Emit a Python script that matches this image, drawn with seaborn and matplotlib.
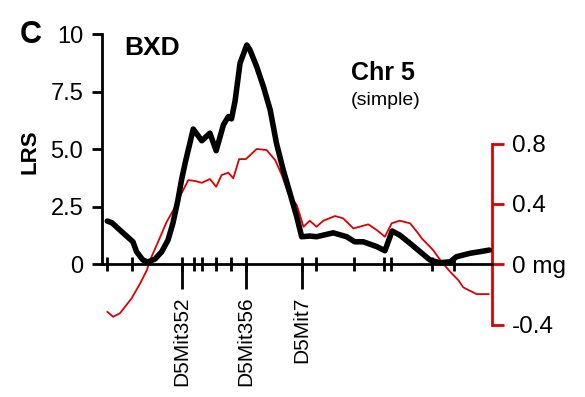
import seaborn as sns
import matplotlib.pyplot as plt
import pandas as pd

sns.set_theme(style='ticks')
plt.rcParams['font.family'] = ['Liberation Sans', 'DejaVu Sans']
plt.rcParams.update({'text.color': 'black', 'axes.edgecolor': 'black',
                     'xtick.color': 'black', 'ytick.color': 'black'})

# LRS scan along Chr 5 (position in cM)
lrs_pos = [0.0, 1.0, 2.8, 5.7, 6.5, 7.9, 9.0, 10.6, 12.1, 13.5, 14.6, 15.7, 16.5, 17.3,
           19.1, 21.0, 22.8, 24.2, 25.8, 26.9, 27.6, 28.4, 29.5, 31.0, 31.7, 33.2, 34.7,
           36.2, 37.6, 39.1, 40.6, 42.1, 43.2, 45.0, 46.5, 50.2, 53.2, 55.0, 56.9, 59.9,
           61.7, 63.3, 65.0, 67.3, 69.5, 71.7, 73.9, 76.2, 77.6, 80.6, 82.8, 84.9]
lrs = [1.88, 1.81, 1.49, 0.98, 0.55, 0.19, 0.10, 0.23, 0.55, 1.06, 1.80, 2.80, 3.67, 4.40,
       5.88, 5.37, 5.70, 4.94, 6.06, 6.42, 6.32, 7.10, 8.74, 9.53, 9.32, 8.59, 7.72,
       6.71, 5.26, 4.10, 3.09, 2.07, 1.20, 1.23, 1.20, 1.37, 1.20, 0.98, 0.98, 0.77,
       0.59, 1.45, 1.27, 0.91, 0.55, 0.19, 0.07, 0.11, 0.33, 0.48, 0.55, 0.62]

# additive effect (mg)
eff_pos = [0.0, 1.3, 2.8, 5.4, 7.3, 8.8, 9.5, 11.3, 13.2, 14.7, 16.5, 18.0, 19.5, 21.0,
           22.8, 24.2, 25.4, 26.9, 28.0, 29.3, 30.8, 33.2, 35.4, 37.3, 38.8, 40.2, 42.1,
           43.6, 45.0, 46.5, 48.0, 50.6, 52.4, 54.7, 58.0, 59.9, 61.7, 63.2, 65.0, 67.3,
           69.1, 69.9, 72.4, 74.3, 76.2, 78.0, 79.1, 80.6, 82.1, 84.8]
eff = [-0.314, -0.347, -0.324, -0.225, -0.126, -0.038, 0.028, 0.150, 0.282, 0.360, 0.470,
       0.558, 0.552, 0.540, 0.565, 0.514, 0.591, 0.607, 0.570, 0.697, 0.697, 0.764, 0.757,
       0.691, 0.591, 0.470, 0.393, 0.249, 0.289, 0.249, 0.289, 0.320, 0.305, 0.238, 0.265,
       0.227, 0.183, 0.272, 0.289, 0.272, 0.205, 0.172, 0.095, 0.017, -0.049, -0.104,
       -0.152, -0.175, -0.197, -0.197]

marker_pos = [0.0, 5.4, 16.5, 19.3, 21.0, 24.2, 27.6, 30.8, 43.2, 46.3, 54.8, 61.4, 63.0,
              72.2, 77.0]
named_pos = [16.5, 30.8, 43.2]
named_markers = ['D5Mit352', 'D5Mit356', 'D5Mit7']

lrs_ticks = [0, 2.5, 5, 7.5, 10]
lrs_ticklabels = ['0', '2.5', '5.0', '7.5', '10']
eff_ticks = [-0.4, 0, 0.4, 0.8]
eff_ticklabels = ['-0.4', '0 mg', '0.4', '0.8']

RED = '#dd0000'
W, H = 585, 397
LW = 2.0

df_lrs = pd.DataFrame({'pos': lrs_pos, 'LRS': lrs})
df_eff = pd.DataFrame({'pos': eff_pos, 'effect': eff})

fig = plt.figure(figsize=(W / 100, H / 100), dpi=100)
ax = fig.add_axes([101.5 / W, 1 - 335 / H, (492 - 101.5) / W, 307 / H])
ax2 = ax.twinx()

sns.lineplot(data=df_eff, x='pos', y='effect', ax=ax2, color=RED, linewidth=1.3)
sns.lineplot(data=df_lrs, x='pos', y='LRS', ax=ax, color='black', linewidth=4.0, zorder=5)
ax.set_zorder(ax2.get_zorder() + 1)
ax.patch.set_visible(False)

ax.set_xlim(-1.29, 85.5)
ax.set_ylim(-3.07, 10.27)
ax2.set_ylim(-0.4677, 1.565)

# left axis
for s in ['top', 'right']:
    ax.spines[s].set_visible(False)
ax.spines['left'].set_bounds(0, 10)
ax.spines['left'].set_linewidth(LW)
ax.spines['bottom'].set_position(('data', 0))
ax.spines['bottom'].set_linewidth(LW)
ax.set_yticks(lrs_ticks)
ax.set_yticklabels(lrs_ticklabels)
ax.tick_params(axis='y', direction='out', length=7.2, width=LW, pad=6, labelsize=17)
ax.set_xlabel('')
ax.set_ylabel('')

# marker ticks
ax.xaxis.remove_overlapping_locs = False
ax.set_xticks(named_pos)
ax.set_xticklabels(named_markers)
ax.set_xticks(marker_pos, minor=True)
ax.tick_params(axis='x', which='major', direction='out', length=18, width=LW, pad=5,
               labelsize=15, labelrotation=90)
ax.tick_params(axis='x', which='minor', direction='inout', length=9.4, width=LW)

# right axis
for s in ['top', 'left', 'bottom']:
    ax2.spines[s].set_visible(False)
ax2.spines['right'].set_bounds(-0.4, 0.8)
ax2.spines['right'].set_color(RED)
ax2.spines['right'].set_linewidth(LW)
ax2.set_yticks(eff_ticks)
ax2.set_yticklabels(eff_ticklabels)
ax2.tick_params(axis='y', direction='out', length=8.6, width=LW, pad=6, labelsize=17.5,
                color=RED, labelcolor='black')
ax2.set_ylabel('')

fig.text(20 / W, 1 - 43 / H, 'C', fontsize=22, fontweight='bold', va='baseline')
fig.text(30 / W, 1 - 152 / H, 'LRS', fontsize=16, fontweight='bold', rotation=90,
         ha='center', va='center')
fig.text(124 / W, 1 - 55 / H, 'BXD', fontsize=19, fontweight='bold', va='baseline')
fig.text(351 / W, 1 - 80 / H, 'Chr 5', fontsize=18, fontweight='bold', va='baseline')
fig.text(351 / W, 1 - 105 / H, '(simple)', fontsize=14, va='baseline')

fig.savefig('out.png', dpi=100, facecolor='white')
